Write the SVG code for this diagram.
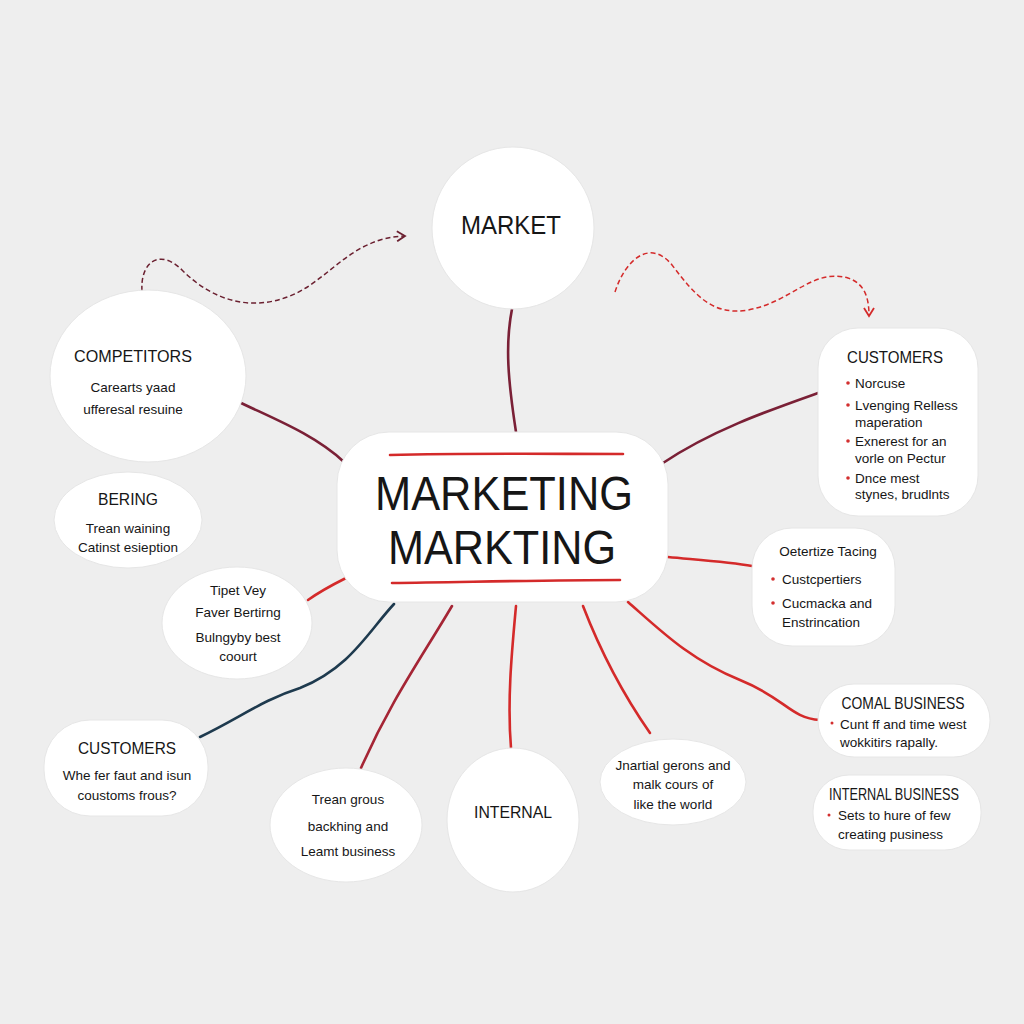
<svg xmlns="http://www.w3.org/2000/svg" width="1024" height="1024" viewBox="0 0 1024 1024">
<style>
.node{fill:#ffffff;stroke:#e6e6e6;stroke-width:1}
.t{font-family:"Liberation Sans",Arial,sans-serif;fill:#161616}
.title{font-size:17px;text-anchor:middle}
.body{font-size:13.5px}
.c{text-anchor:middle}
.bul{fill:#d32f2f}
.con{fill:none;stroke-width:2.6;stroke-linecap:round}
.maroon{stroke:#7a2036}
.red{stroke:#d42a2a}
.dred{stroke:#a52535}
.navy{stroke:#1e3a4e}
</style>
<defs>
<marker id="arrM" viewBox="0 0 12 12" refX="10" refY="6" markerWidth="12" markerHeight="12" markerUnits="userSpaceOnUse" orient="auto">
<path d="M2,1 L10,6 L2,11" fill="none" stroke="#6b2030" stroke-width="1.8"/>
</marker>
<marker id="arrR" viewBox="0 0 12 12" refX="10" refY="6" markerWidth="12" markerHeight="12" markerUnits="userSpaceOnUse" orient="auto">
<path d="M2,1 L10,6 L2,11" fill="none" stroke="#d42a2a" stroke-width="1.8"/>
</marker>
</defs>
<rect width="1024" height="1024" fill="#eeeeee"/>
<g id="connectors">
<path class="con maroon" d="M512,309 C505,345 508,380 516,432"/>
<path class="con maroon" d="M219,392 C260,414 310,430 344,462"/>
<path class="con maroon" d="M818,393 C770,410 712,430 663,463"/>
<path class="con red" d="M668,557 C700,560 730,562 752,566"/>
<path class="con red" d="M628,602 C660,630 690,660 740,680 C785,698 790,718 820,720"/>
<path class="con red" d="M308,600 C322,590 334,584 346,578"/>
<path class="con navy" d="M200,737 C240,718 262,700 300,688 C350,668 368,632 394,604"/>
<path class="con dred" d="M361,768 C390,702 420,660 452,606"/>
<path class="con red" d="M511,748 C507,700 512,650 516,606"/>
<path class="con red" d="M650,733 C620,690 600,650 583,606"/>
<path fill="none" stroke="#6b2030" stroke-width="1.5" stroke-dasharray="5,3" d="M142,291 C140,262 160,248 182,270 C212,300 250,312 290,296 C330,280 350,238 405,236" marker-end="url(#arrM)"/>
<path fill="none" stroke="#d42a2a" stroke-width="1.5" stroke-dasharray="5,3" d="M615,292 C625,260 650,238 672,265 C695,295 712,316 748,310 C792,302 812,268 848,278 C866,284 869,300 869,316" marker-end="url(#arrR)"/>
</g>
<g id="market">
<circle class="node" cx="513" cy="228" r="81"/>
<text class="t c" x="511" y="234" font-size="26" textLength="100" lengthAdjust="spacingAndGlyphs">MARKET</text>
</g>
<g id="center">
<rect class="node" x="337" y="432" width="331" height="170" rx="52"/>
<path d="M390,455 C470,453 550,454 623,454" class="con red" stroke-width="3"/>
<path d="M392,583 C470,582 550,580 620,580" class="con red" stroke-width="3"/>
<text class="t" x="375" y="510" font-size="49" textLength="258" lengthAdjust="spacingAndGlyphs">MARKETING</text>
<text class="t" x="388" y="564" font-size="49" textLength="228" lengthAdjust="spacingAndGlyphs">MARKTING</text>
</g>
<g id="competitors">
<ellipse class="node" cx="148" cy="376" rx="98" ry="86"/>
<text class="t title" x="133" y="362" textLength="118" lengthAdjust="spacingAndGlyphs">COMPETITORS</text>
<text class="t body c" x="133" y="392">Carearts yaad</text>
<text class="t body c" x="133" y="414">ufferesal resuine</text>
</g>
<g id="bering">
<ellipse class="node" cx="128" cy="520" rx="74" ry="48"/>
<text class="t title" x="128" y="505" textLength="60" lengthAdjust="spacingAndGlyphs">BERING</text>
<text class="t body c" x="128" y="533">Trean waining</text>
<text class="t body c" x="128" y="552">Catinst esieption</text>
</g>
<g id="tipet">
<ellipse class="node" cx="237" cy="623" rx="75" ry="56"/>
<text class="t body c" x="238" y="595">Tipet Vey</text>
<text class="t body c" x="238" y="617">Faver Bertirng</text>
<text class="t body c" x="238" y="642">Bulngyby best</text>
<text class="t body c" x="238" y="661">coourt</text>
</g>
<g id="customers-left">
<rect class="node" x="44" y="720" width="164" height="96" rx="46"/>
<text class="t title" x="127" y="754" textLength="98" lengthAdjust="spacingAndGlyphs">CUSTOMERS</text>
<text class="t body c" x="127" y="780">Whe fer faut and isun</text>
<text class="t body c" x="127" y="800">coustoms frous?</text>
</g>
<g id="trean">
<ellipse class="node" cx="346" cy="825" rx="76" ry="57"/>
<text class="t body c" x="348" y="804">Trean grous</text>
<text class="t body c" x="348" y="831">backhing and</text>
<text class="t body c" x="348" y="856">Leamt business</text>
</g>
<g id="internal">
<ellipse class="node" cx="513" cy="820" rx="66" ry="72"/>
<text class="t title" x="513" y="818" textLength="78" lengthAdjust="spacingAndGlyphs">INTERNAL</text>
</g>
<g id="jnartial">
<ellipse class="node" cx="673" cy="782" rx="73" ry="43"/>
<text class="t body c" x="673" y="770">Jnartial gerons and</text>
<text class="t body c" x="673" y="789">malk cours of</text>
<text class="t body c" x="673" y="809">like the world</text>
</g>
<g id="customers-right">
<rect class="node" x="818" y="328" width="160" height="188" rx="40"/>
<text class="t title" x="895" y="363" textLength="96" lengthAdjust="spacingAndGlyphs">CUSTOMERS</text>
<circle class="bul" cx="848" cy="383" r="1.8"/>
<text class="t body" x="855" y="388">Norcuse</text>
<circle class="bul" cx="848" cy="405" r="1.8"/>
<text class="t body" x="855" y="410">Lvenging Relless</text>
<text class="t body" x="855" y="427">maperation</text>
<circle class="bul" cx="848" cy="441" r="1.8"/>
<text class="t body" x="855" y="446">Exnerest for an</text>
<text class="t body" x="855" y="463">vorle on Pectur</text>
<circle class="bul" cx="848" cy="478" r="1.8"/>
<text class="t body" x="855" y="483">Dnce mest</text>
<text class="t body" x="855" y="499">stynes, brudlnts</text>
</g>
<g id="oetertize">
<rect class="node" x="752" y="528" width="143" height="118" rx="40"/>
<text class="t body c" x="828" y="556">Oetertize Tacing</text>
<circle class="bul" cx="773" cy="579" r="1.8"/>
<text class="t body" x="782" y="584">Custcpertiers</text>
<circle class="bul" cx="773" cy="603" r="1.8"/>
<text class="t body" x="782" y="608">Cucmacka and</text>
<text class="t body" x="782" y="627">Enstrincation</text>
</g>
<g id="comal">
<rect class="node" x="818" y="684" width="172" height="73" rx="36"/>
<text class="t title" x="903" y="709" textLength="123" lengthAdjust="spacingAndGlyphs">COMAL BUSINESS</text>
<circle class="bul" cx="832" cy="723" r="1.5"/>
<text class="t body" x="840" y="729">Cunt ff and time west</text>
<text class="t body" x="840" y="747">wokkitirs rapally.</text>
</g>
<g id="internal-business">
<rect class="node" x="813" y="775" width="168" height="75" rx="36"/>
<text class="t title" x="894" y="800" font-size="16" textLength="130" lengthAdjust="spacingAndGlyphs">INTERNAL BUSINESS</text>
<circle class="bul" cx="829" cy="815" r="1.5"/>
<text class="t body" x="838" y="820">Sets to hure of few</text>
<text class="t body" x="838" y="839">creating pusiness</text>
</g>
</svg>
